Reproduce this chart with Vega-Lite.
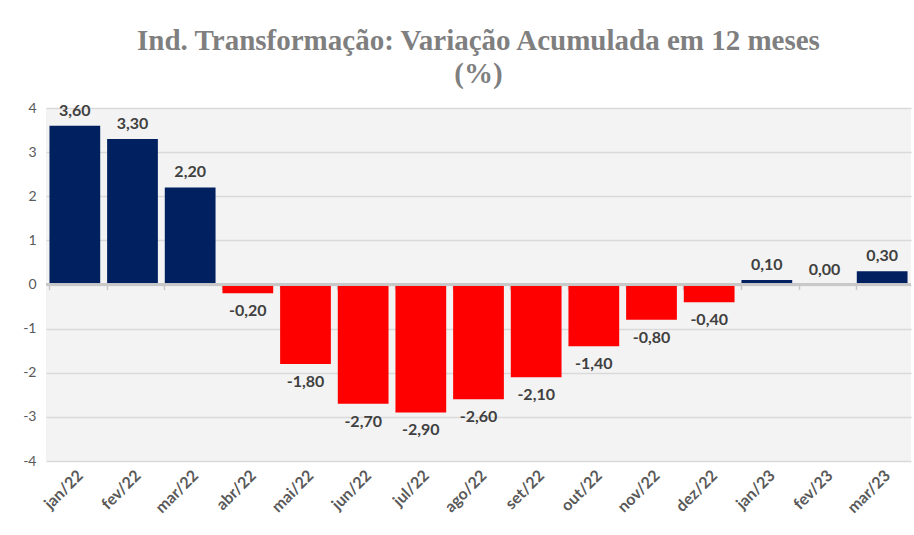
{
  "$schema": "https://vega.github.io/schema/vega-lite/v6.json",
  "width": 865,
  "height": 353,
  "padding": {"left": 22, "top": 27, "right": 2, "bottom": 0},
  "background": "white",
  "config": {
    "locale": {"number": {"decimal": ",", "thousands": ".", "grouping": [3], "currency": ["R$", ""], "minus": "-"}},
    "view": {"fill": "#f3f3f3", "stroke": null},
    "font": "Lato"
  },
  "title": {
    "text": ["Ind. Transformação: Variação Acumulada em 12 meses", "(%)"],
    "font": "Liberation Serif",
    "fontSize": 29,
    "fontWeight": "bold",
    "color": "#7f7f7f",
    "lineHeight": 33,
    "offset": 12,
    "anchor": "middle"
  },
  "data": {
    "values": [
      {"m": "jan/22", "v": 3.6},
      {"m": "fev/22", "v": 3.3},
      {"m": "mar/22", "v": 2.2},
      {"m": "abr/22", "v": -0.2},
      {"m": "mai/22", "v": -1.8},
      {"m": "jun/22", "v": -2.7},
      {"m": "jul/22", "v": -2.9},
      {"m": "ago/22", "v": -2.6},
      {"m": "set/22", "v": -2.1},
      {"m": "out/22", "v": -1.4},
      {"m": "nov/22", "v": -0.8},
      {"m": "dez/22", "v": -0.4},
      {"m": "jan/23", "v": 0.1},
      {"m": "fev/23", "v": 0.0},
      {"m": "mar/23", "v": 0.3}
    ]
  },
  "encoding": {
    "x": {"field": "m", "type": "nominal", "sort": null,
          "scale": {"paddingInner": 0.12, "paddingOuter": 0.06}},
    "y": {"field": "v", "type": "quantitative",
          "scale": {"domain": [-4, 4], "nice": false},
          "axis": {"values": [-4, -3, -2, -1, 0, 1, 2, 3, 4], "format": "d", "title": null,
                   "domain": false, "ticks": false, "labelFont": "Lato", "labelFontSize": 14,
                   "labelColor": "#595959", "labelPadding": 10, "gridColor": "#d9d9d9", "gridWidth": 1.5}}
  },
  "layer": [
    {
      "mark": {"type": "bar"},
      "encoding": {
        "x": {"field": "m", "type": "nominal", "sort": null,
              "axis": {"title": null, "labelAngle": -45, "domain": false, "ticks": false,
                       "labelFont": "Lato", "labelFontSize": 16, "labelFontWeight": "bold",
                       "labelColor": "#595959", "labelPadding": 6}},
        "color": {
          "condition": {"test": "datum.v < 0", "value": "#ff0000"},
          "value": "#002060"
        }
      }
    },
    {
      "mark": {"type": "rule", "color": "#c8c8c8", "strokeWidth": 1.5},
      "encoding": {"y": {"datum": 0}, "x": null}
    },
    {
      "transform": [{"filter": "datum.v >= 0"}],
      "mark": {"type": "text", "baseline": "bottom", "dy": -7, "font": "Lato", "fontSize": 16, "fontWeight": "bold", "color": "#404040"},
      "encoding": {
        "x": {"field": "m", "type": "nominal", "sort": null,
              "axis": {"title": null, "orient": "bottom", "labels": false, "domain": false, "ticks": true,
                       "tickColor": "#c8c8c8", "tickSize": 5, "tickWidth": 1.5, "bandPosition": 0, "offset": -176.5}},
        "text": {"field": "v", "type": "quantitative", "format": ".2f"}
      }
    },
    {
      "transform": [{"filter": "datum.v < 0"}],
      "mark": {"type": "text", "baseline": "top", "dy": 10, "font": "Lato", "fontSize": 16, "fontWeight": "bold", "color": "#404040"},
      "encoding": {
        "x": {"field": "m", "type": "nominal", "sort": null, "axis": null},
        "text": {"field": "v", "type": "quantitative", "format": ".2f"}
      }
    }
  ],
  "resolve": {"axis": {"x": "independent"}}
}
